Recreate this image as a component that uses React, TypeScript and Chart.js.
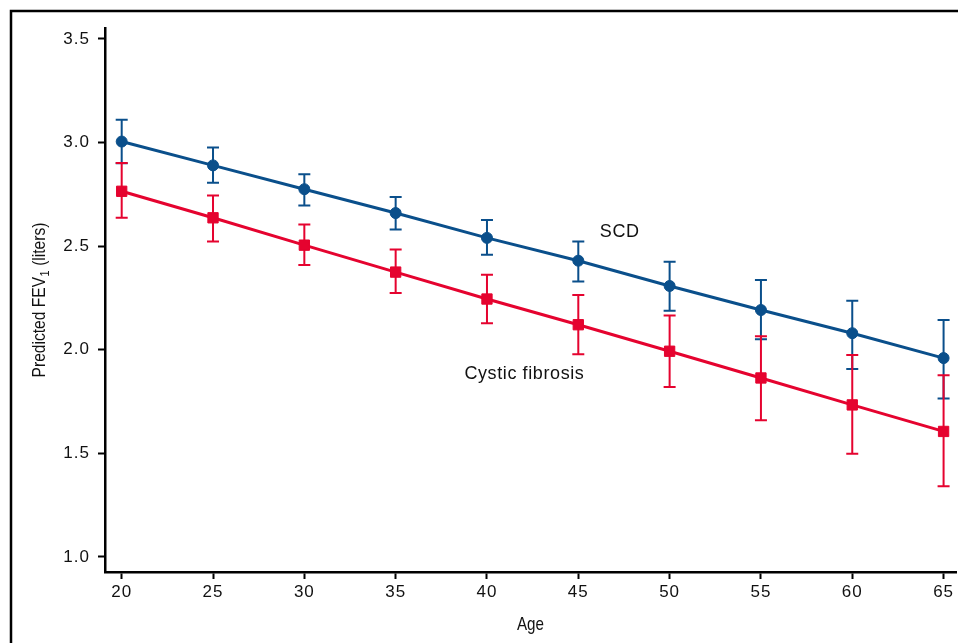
import React, { useEffect, useRef } from 'react';
import { Chart, registerables } from 'chart.js';

Chart.register(...registerables);

const ages = [20, 25, 30, 35, 40, 45, 50, 55, 60, 65];
const scdMean = [3.005, 2.89, 2.775, 2.66, 2.54, 2.43, 2.308, 2.192, 2.08, 1.96];
const scdUpper = [3.11, 2.976, 2.847, 2.737, 2.626, 2.523, 2.425, 2.337, 2.237, 2.144];
const scdLower = [2.9, 2.806, 2.696, 2.58, 2.459, 2.33, 2.189, 2.051, 1.907, 1.765];
const cfMean = [2.765, 2.637, 2.505, 2.375, 2.245, 2.121, 1.993, 1.864, 1.734, 1.606];
const cfUpper = [2.902, 2.745, 2.605, 2.484, 2.362, 2.264, 2.165, 2.065, 1.975, 1.877];
const cfLower = [2.637, 2.523, 2.409, 2.274, 2.128, 1.978, 1.82, 1.66, 1.498, 1.342];

const xTicks = [20, 25, 30, 35, 40, 45, 50, 55, 60, 65];
const yTicks = [1.0, 1.5, 2.0, 2.5, 3.0, 3.5];

const seriesLabels = [
  { text: 'SCD', x: 47.27, y: 2.566 },
  { text: 'Cystic fibrosis', x: 42.05, y: 1.882 },
];

const BLUE = '#0a4f8b';
const RED = '#e5032f';
const FONT = "'Liberation Sans', Arial, sans-serif";

function zeroPadding(s: any) {
  s.paddingLeft = 0;
  s.paddingRight = 0;
  s.paddingTop = 0;
  s.paddingBottom = 0;
}

const extrasPlugin = {
  id: 'extras',
  beforeDraw(chart: any) {
    const ctx = chart.ctx;
    try { (ctx as any).letterSpacing = '1px'; } catch (e) {}
  },
  beforeDatasetsDraw(chart: any) {
    const ctx = chart.ctx;
    const xs = chart.scales.x;
    const ys = chart.scales.y;
    const groups = [
      { lo: scdLower, hi: scdUpper, color: BLUE },
      { lo: cfLower, hi: cfUpper, color: RED },
    ];
    ctx.save();
    ctx.lineWidth = 2;
    for (const g of groups) {
      ctx.strokeStyle = g.color;
      ages.forEach((a, i) => {
        const px = xs.getPixelForValue(a);
        const y1 = ys.getPixelForValue(g.hi[i]);
        const y2 = ys.getPixelForValue(g.lo[i]);
        ctx.beginPath();
        ctx.moveTo(px, y1);
        ctx.lineTo(px, y2);
        ctx.moveTo(px - 6, y1);
        ctx.lineTo(px + 6, y1);
        ctx.moveTo(px - 6, y2);
        ctx.lineTo(px + 6, y2);
        ctx.stroke();
      });
    }
    ctx.restore();
  },
  afterDraw(chart: any) {
    const ctx = chart.ctx;
    const xs = chart.scales.x;
    const ys = chart.scales.y;
    const area = chart.chartArea;
    ctx.save();
    // frame
    ctx.strokeStyle = '#000';
    ctx.lineWidth = 2.5;
    ctx.beginPath();
    ctx.moveTo(11, 660);
    ctx.lineTo(11, 11);
    ctx.lineTo(970, 11);
    ctx.stroke();

    // series labels
    ctx.fillStyle = '#111';
    ctx.font = `18px ${FONT}`;
    (ctx as any).letterSpacing = '0.6px';
    ctx.textAlign = 'center';
    ctx.textBaseline = 'middle';
    for (const l of seriesLabels) {
      ctx.fillText(l.text, xs.getPixelForValue(l.x), ys.getPixelForValue(l.y));
    }

    // x title (condensed look via horizontal scaling)
    (ctx as any).letterSpacing = '0px';
    ctx.save();
    ctx.translate((area.left + area.right) / 2, 625);
    ctx.scale(0.8, 1);
    ctx.font = `19px ${FONT}`;
    ctx.fillText('Age', 0, 0);
    ctx.restore();

    // y title with subscript
    const cy = (area.top + area.bottom) / 2;
    ctx.translate(38, cy);
    ctx.rotate(-Math.PI / 2);
    ctx.scale(0.82, 1);
    const p1 = 'Predicted FEV';
    const sub = '1';
    const p2 = ' (liters)';
    ctx.font = `19px ${FONT}`;
    const w1 = ctx.measureText(p1).width;
    const w3 = ctx.measureText(p2).width;
    ctx.font = `13px ${FONT}`;
    const w2 = ctx.measureText(sub).width;
    const total = w1 + w2 + w3 + 1;
    const x0 = -total / 2;
    ctx.textAlign = 'left';
    ctx.textBaseline = 'alphabetic';
    ctx.font = `19px ${FONT}`;
    ctx.fillText(p1, x0, 7);
    ctx.font = `13px ${FONT}`;
    ctx.fillText(sub, x0 + w1 + 0.5, 11);
    ctx.font = `19px ${FONT}`;
    ctx.fillText(p2, x0 + w1 + w2 + 1, 7);
    ctx.restore();
  },
};

export default function App() {
  const ref = useRef<HTMLCanvasElement | null>(null);

  useEffect(() => {
    if (!ref.current) return;
    const chart = new Chart(ref.current, {
      type: 'line',
      data: {
        datasets: [
          {
            label: 'SCD',
            data: ages.map((a, i) => ({ x: a, y: scdMean[i] })),
            borderColor: BLUE,
            backgroundColor: BLUE,
            borderWidth: 3,
            pointStyle: 'circle',
            pointRadius: 5.5,
            pointBorderWidth: 1,
            pointBackgroundColor: BLUE,
            pointBorderColor: BLUE,
            tension: 0,
          },
          {
            label: 'Cystic fibrosis',
            data: ages.map((a, i) => ({ x: a, y: cfMean[i] })),
            borderColor: RED,
            backgroundColor: RED,
            borderWidth: 3,
            pointStyle: 'rect',
            pointRadius: 7.3,
            pointBorderWidth: 1,
            pointBackgroundColor: RED,
            pointBorderColor: RED,
            tension: 0,
          },
        ],
      },
      options: {
        animation: false,
        responsive: false,
        maintainAspectRatio: false,
        devicePixelRatio: 1,
        layout: { autoPadding: false, padding: { left: 0, top: 28, right: 2, bottom: 0 } },
        plugins: {
          legend: { display: false },
          tooltip: { enabled: false },
          title: { display: false },
        },
        scales: {
          x: {
            type: 'linear',
            min: 19.086,
            max: 65.68,
            afterBuildTicks: (s: any) => {
              s.ticks = xTicks.map((v) => ({ value: v }));
            },
            afterFit: (s: any) => {
              s.height = 71;
              zeroPadding(s);
            },
            border: { display: true, color: '#000', width: 2.5 },
            grid: {
              display: true,
              drawOnChartArea: false,
              drawTicks: true,
              tickLength: 7,
              tickWidth: 2,
              tickColor: '#000',
            },
            ticks: {
              color: '#111',
              font: { family: FONT, size: 17 },
              padding: 3,
              maxRotation: 0,
              autoSkip: false,
              callback: (v: any) => String(v),
            },
          },
          y: {
            type: 'linear',
            min: 0.9276,
            max: 3.553,
            afterBuildTicks: (s: any) => {
              s.ticks = yTicks.map((v) => ({ value: v }));
            },
            afterFit: (s: any) => {
              s.width = 105;
              zeroPadding(s);
            },
            border: { display: true, color: '#000', width: 2.5 },
            grid: {
              display: true,
              drawOnChartArea: false,
              drawTicks: true,
              tickLength: 7,
              tickWidth: 2,
              tickColor: '#000',
            },
            ticks: {
              color: '#111',
              font: { family: FONT, size: 17 },
              padding: 8,
              autoSkip: false,
              callback: (v: any) => Number(v).toFixed(1),
            },
          },
        },
      },
      plugins: [extrasPlugin],
    });
    return () => chart.destroy();
  }, []);

  return (
    <div
      style={{
        position: 'fixed',
        left: 0,
        top: 0,
        width: 958,
        height: 643,
        background: '#fff',
        overflow: 'hidden',
      }}
    >
      <canvas ref={ref} width={958} height={643} style={{ display: 'block', width: 958, height: 643 }} />
    </div>
  );
}
